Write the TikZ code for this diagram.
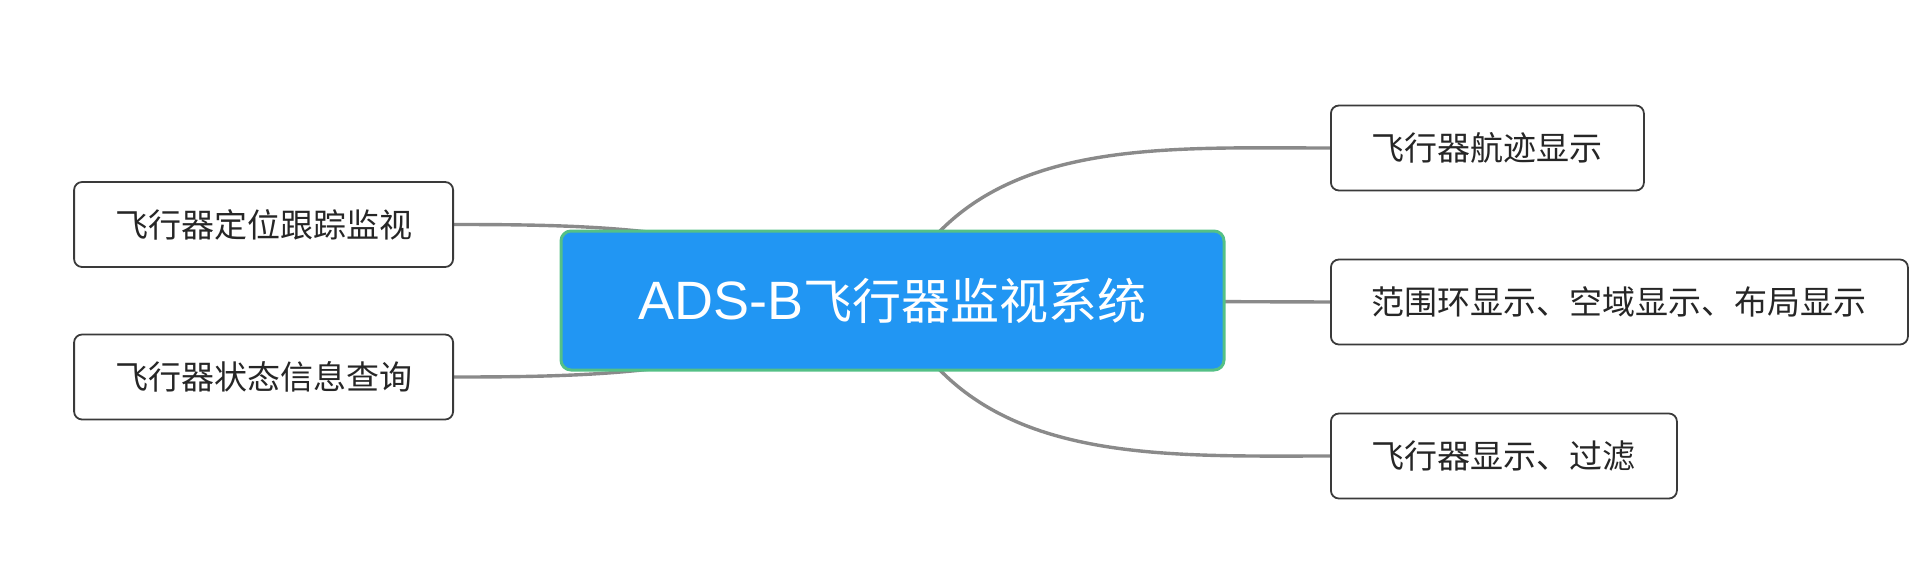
\documentclass[tikz,border=0pt]{standalone}
\usepackage{fontspec}
\newfontfamily\cjk{Noto Sans CJK SC}
\newfontfamily\latin{Liberation Sans}
\usepackage{tikz}
\usetikzlibrary{backgrounds}

\definecolor{hubblue}{RGB}{33,150,243}
\definecolor{hubgreen}{RGB}{84,192,134}
\definecolor{linkgray}{RGB}{138,138,138}
\definecolor{boxgray}{RGB}{58,58,58}

\begin{document}
\begin{tikzpicture}[x=0.5pt,y=0.5pt,
    hub/.style={draw=hubgreen,line width=1.5pt,fill=hubblue,rounded corners=5pt,
      text=white,font=\cjk\fontsize{24.5}{28}\selectfont,
      minimum width=331.5pt,minimum height=69.5pt},
    leaf/.style={draw=boxgray,line width=0.9pt,fill=white,rounded corners=4pt,
      text=black!85,font=\cjk\fontsize{16.5}{20}\selectfont,
      inner xsep=20.5pt,minimum height=42.5pt},
    link/.style={draw=linkgray,line width=1.7pt}]
  \useasboundingbox (0,0) rectangle (1920,-578);
  \node[hub] (sys) at (892.5,-300.5) {{\latin\fontsize{27}{30}\selectfont ADS-B}飞行器监视系统};
  \node[leaf,anchor=east] (track) at (454,-224.5) {飞行器定位跟踪监视};
  \node[leaf,anchor=east] (query) at (454,-377) {飞行器状态信息查询};
  \node[leaf,anchor=west] (path) at (1330,-148) {飞行器航迹显示};
  \node[leaf,anchor=west] (rings) at (1330,-302) {范围环显示、空域显示、布局显示};
  \node[leaf,anchor=west] (filter) at (1330,-456) {飞行器显示、过滤};
  \begin{scope}[on background layer]
    \draw[link] (track.east) to[out=0,in=156] (sys.center);
    \draw[link] (query.east) to[out=0,in=204] (sys.center);
    \draw[link] (sys.center) to[out=65,in=180] (path.west);
    \draw[link] (sys.center) -- (rings.west);
    \draw[link] (sys.center) to[out=-65,in=180] (filter.west);
  \end{scope}
\end{tikzpicture}
\end{document}
